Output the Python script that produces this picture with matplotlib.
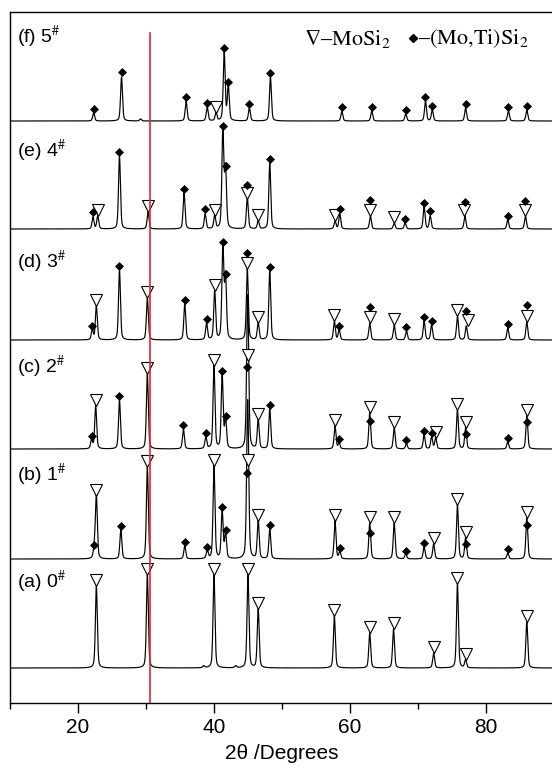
import numpy as np
import matplotlib
matplotlib.use("Agg")
import matplotlib.pyplot as plt

plt.rcParams['mathtext.fontset'] = 'stix'

# ---------------- data ----------------
# peaks: (2theta, intensity in arbitrary units above the pattern baseline)
peaks_a = [(22.7, 82), (30.2, 93), (38.5, 2), (40.0, 93), (43.2, 2), (45.0, 93), (46.5, 59),
           (57.7, 52), (62.9, 35), (66.4, 39), (72.3, 15), (75.8, 84), (77.0, 8), (86.0, 46)]
peaks_b = [(22.4, 10), (22.7, 63), (26.3, 29), (30.2, 92), (35.7, 13), (39.0, 8), (40.0, 93),
           (41.2, 48), (41.7, 25), (44.9, 78), (45.0, 93), (46.5, 38), (48.2, 30), (57.8, 38),
           (58.5, 7), (62.9, 36), (66.5, 36), (68.2, 5), (70.9, 12), (72.3, 15), (75.8, 54),
           (77.0, 21), (83.2, 6), (86.0, 41)]
peaks_c = [(22.0, 9), (22.6, 43), (26.1, 49), (30.2, 75), (35.5, 20), (38.8, 12), (40.0, 83),
           (41.2, 74), (41.7, 29), (44.9, 78), (45.0, 88), (46.5, 29), (48.2, 40), (57.8, 23),
           (58.4, 6), (62.9, 36), (66.5, 21), (68.3, 5), (70.9, 14), (72.0, 12), (72.6, 11),
           (75.8, 39), (77.0, 21), (83.2, 7), (86.0, 33)]
peaks_d = [(22.1, 10), (22.7, 34), (26.1, 70), (30.2, 42), (35.7, 36), (38.9, 17), (40.1, 49),
           (41.3, 94), (41.7, 62), (44.9, 71), (46.5, 17), (48.2, 69), (57.7, 19), (58.4, 10),
           (62.9, 17), (66.5, 15), (68.3, 9), (70.9, 19), (72.0, 15), (75.8, 24), (77.1, 14),
           (83.2, 12), (86.0, 18)]
peaks_e = [(22.2, 12), (22.9, 13), (26.1, 73), (30.3, 17), (35.6, 36), (38.7, 15), (40.1, 13),
           (41.3, 98), (41.7, 59), (44.9, 31), (46.5, 8), (48.2, 66), (57.8, 8), (58.5, 15),
           (63.0, 13), (66.5, 6), (68.1, 6), (70.9, 22), (71.8, 13), (76.9, 13), (83.2, 9),
           (85.8, 13)]
peaks_f = [(22.3, 8), (26.4, 44), (29.2, 2), (35.9, 20), (39.0, 14), (40.3, 8), (41.5, 69),
           (42.1, 35), (45.2, 13), (48.3, 44), (58.8, 10), (63.2, 10), (68.2, 7), (71.1, 20),
           (72.1, 11), (77.0, 13), (83.3, 10), (86.0, 11)]

# phase markers: (2theta, marker height above baseline)
tri_a = [(22.7, 88), (30.2, 99), (40.0, 99), (45.0, 99), (46.5, 65), (57.7, 58), (62.9, 41),
         (66.4, 45), (72.3, 21), (75.8, 90), (77.0, 14), (86.0, 52)]
dia_a = []
tri_b = [(22.7, 69), (30.2, 98), (40.0, 99), (45.0, 99), (46.5, 44), (57.8, 44), (62.9, 42),
         (66.5, 42), (72.3, 21), (75.8, 60), (77.0, 27), (86.0, 47)]
dia_b = [(22.4, 14), (26.3, 33), (35.7, 17), (39.0, 12), (41.2, 52), (41.7, 29), (44.9, 86),
         (48.2, 34), (58.5, 11), (62.9, 26), (68.2, 8), (70.9, 16), (77.0, 15), (83.2, 10),
         (86.0, 34)]
tri_c = [(22.6, 49), (30.2, 81), (40.0, 89), (45.0, 94), (46.5, 35), (57.8, 29), (62.9, 42),
         (66.5, 27), (72.6, 17), (75.8, 45), (77.0, 27), (86.0, 39)]
dia_c = [(22.0, 13), (26.1, 53), (35.5, 24), (38.8, 16), (41.2, 78), (41.7, 33), (44.9, 82),
         (48.2, 44), (58.4, 10), (62.9, 28), (68.3, 9), (70.9, 18), (72.0, 16), (77.0, 15),
         (83.2, 11), (86.0, 27)]
tri_d = [(22.7, 40), (30.2, 48), (40.1, 55), (44.9, 77), (46.5, 23), (57.7, 25), (62.9, 23),
         (66.5, 21), (75.8, 30), (77.3, 20), (86.0, 24)]
dia_d = [(22.1, 14), (26.1, 74), (35.7, 40), (38.9, 21), (41.3, 98), (41.7, 66), (44.9, 87),
         (48.2, 73), (58.4, 14), (62.9, 33), (68.3, 13), (70.9, 23), (72.0, 19), (77.0, 29),
         (83.2, 16), (86.0, 35)]
tri_e = [(22.9, 19), (30.3, 23), (40.1, 19), (44.9, 36), (46.5, 14), (57.8, 14), (63.0, 19),
         (66.5, 12), (76.8, 19), (85.8, 19)]
dia_e = [(22.2, 17), (26.1, 77), (35.6, 40), (38.7, 20), (41.3, 103), (41.7, 63), (44.9, 44),
         (48.2, 70), (58.5, 20), (63.0, 29), (68.1, 10), (70.9, 26), (71.8, 18), (76.9, 27),
         (83.2, 13), (85.8, 28)]
tri_f = [(40.3, 14)]
dia_f = [(22.3, 12), (26.4, 49), (35.9, 24), (39.0, 18), (41.5, 73), (42.1, 39), (45.2, 17),
         (48.3, 48), (58.8, 14), (63.2, 14), (68.2, 11), (71.1, 24), (72.1, 15), (77.0, 17),
         (83.3, 14), (86.0, 15)]

sample_labels = [r'(a) 0$^{\#}$', r'(b) 1$^{\#}$', r'(c) 2$^{\#}$',
                 r'(d) 3$^{\#}$', r'(e) 4$^{\#}$', r'(f) 5$^{\#}$']
label_heights = [80, 78, 76, 72, 72, 78]
offsets = [35, 144, 254, 363, 474, 582]
red_line_2theta = 30.6

all_peaks = [peaks_a, peaks_b, peaks_c, peaks_d, peaks_e, peaks_f]
all_tri = [tri_a, tri_b, tri_c, tri_d, tri_e, tri_f]
all_dia = [dia_a, dia_b, dia_c, dia_d, dia_e, dia_f]

# ---------------- drawing ----------------
W, H = 552, 769
fig = plt.figure(figsize=(W / 100, H / 100), dpi=100)
ax = fig.add_axes([10 / W, 66 / H, 544 / W, 691 / H])
ax.set_xlim(10, 90)
ax.set_ylim(0, 691)

x = np.arange(10, 90.001, 0.02)


def profile(xx, peaks, w=0.33):
    y = np.zeros_like(xx)
    for p, h in peaks:
        d = (xx - p) / w
        y += h * (0.6 * np.exp(-4 * np.log(2) * d ** 2) + 0.4 / (1 + 4 * d ** 2))
    return y


for peaks, tri, dia, off, lab, lh in zip(all_peaks, all_tri, all_dia, offsets,
                                         sample_labels, label_heights):
    ax.plot(x, off + profile(x, peaks), color='black', lw=0.85, zorder=2)
    if tri:
        tx, th = zip(*tri)
        ax.plot(tx, np.array(th) + off, linestyle='none', marker='v', ms=8.5,
                mfc='white', mec='black', mew=0.8, zorder=3)
    if dia:
        dx, dh = zip(*dia)
        ax.plot(dx, np.array(dh) + off, linestyle='none', marker='D', ms=4.5,
                mfc='black', mec='black', mew=0.5, zorder=4)
    ax.text(11.0, off + lh, lab, fontsize=14, family='Liberation Sans',
            ha='left', va='baseline')

ax.plot([red_line_2theta, red_line_2theta], [0, 670], color='#e0282e', lw=1.2, zorder=5)

# legend-like annotation
ax.text(53.2, 664, '∇–MoSi$_2$', fontsize=16, family='STIXGeneral', ha='left', va='center')
ax.plot([69.3], [665], linestyle='none', marker='D', ms=4.5, mfc='black', mec='black')
ax.text(70.0, 664, '–(Mo,Ti)Si$_2$', fontsize=16, family='STIXGeneral', ha='left', va='center')

ax.spines['right'].set_visible(False)
for s in ['left', 'top', 'bottom']:
    ax.spines[s].set_linewidth(1.0)
ax.set_yticks([])
ax.set_xticks([20, 40, 60, 80])
ax.set_xticks([10, 30, 50, 70, 90], minor=True)
ax.tick_params(axis='x', which='major', direction='out', length=7, width=1.0,
               labelsize=15, pad=4)
ax.tick_params(axis='x', which='minor', direction='out', length=4.5, width=1.0)
for t in ax.get_xticklabels():
    t.set_family('Liberation Sans')
ax.set_xlabel('2θ /Degrees', fontsize=15, family='Liberation Sans', labelpad=5)

fig.savefig('out.png', dpi=100)
